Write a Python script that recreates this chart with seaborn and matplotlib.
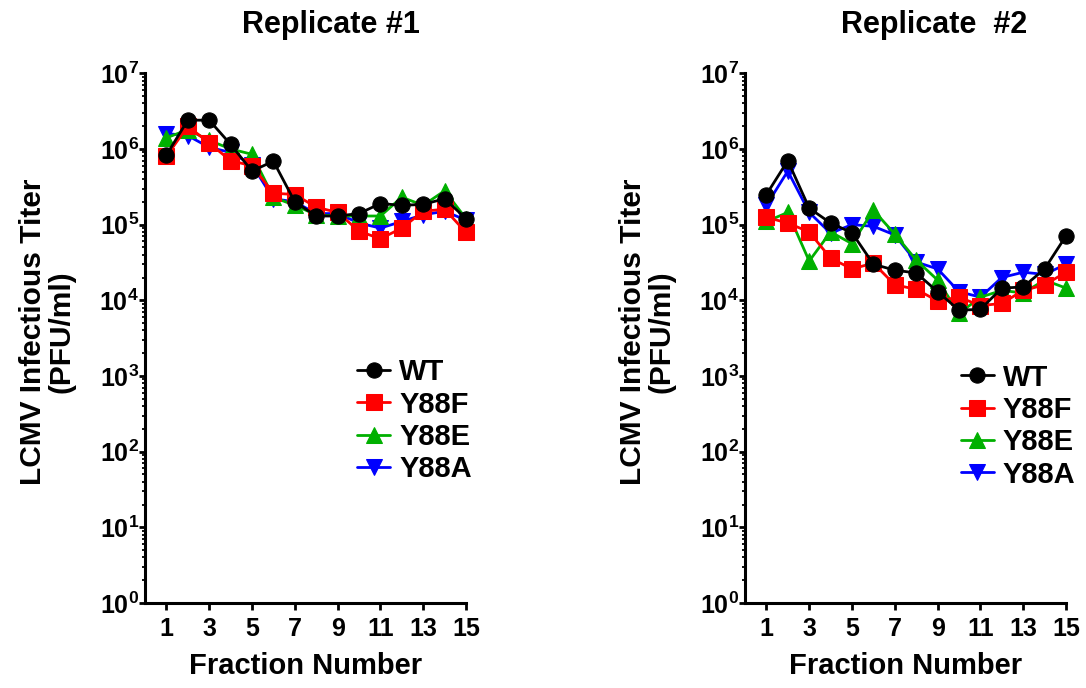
import matplotlib
matplotlib.use("Agg")
import matplotlib.pyplot as plt
import pandas as pd
import seaborn as sns
from matplotlib.ticker import FixedLocator, LogLocator, NullFormatter

# fraction numbers and strains
fractions = list(range(1, 16))
strains = ["WT", "Y88F", "Y88E", "Y88A"]

# replicate 1 titers (PFU/ml)
rep1_wt = [8.3e5, 2.4e6, 2.4e6, 1.15e6, 5.1e5, 6.9e5, 2.0e5, 1.3e5, 1.3e5, 1.4e5, 1.9e5, 1.8e5, 1.85e5, 2.2e5, 1.2e5]
rep1_y88f = [8.0e5, 2.0e6, 1.2e6, 7.0e5, 6.0e5, 2.6e5, 2.5e5, 1.7e5, 1.45e5, 8.2e4, 6.5e4, 9.0e4, 1.5e5, 1.6e5, 7.9e4]
rep1_y88e = [1.4e6, 1.8e6, 1.3e6, 1.0e6, 8.5e5, 2.3e5, 1.8e5, 1.35e5, 1.3e5, 1.3e5, 1.3e5, 2.3e5, 1.8e5, 2.8e5, 1.2e5]
rep1_y88a = [1.6e6, 1.5e6, 1.05e6, 9.0e5, 6.2e5, 2.2e5, 2.0e5, 1.4e5, 1.4e5, 1.05e5, 9.0e4, 1.1e5, 1.35e5, 1.5e5, 1.15e5]

# replicate 2 titers (PFU/ml)
rep2_wt = [2.5e5, 7.0e5, 1.65e5, 1.05e5, 7.8e4, 3.0e4, 2.5e4, 2.3e4, 1.3e4, 7.4e3, 7.6e3, 1.45e4, 1.5e4, 2.6e4, 7.1e4]
rep2_y88f = [1.25e5, 1.05e5, 8.0e4, 3.6e4, 2.6e4, 3.1e4, 1.6e4, 1.4e4, 9.8e3, 1.1e4, 8.5e3, 9.1e3, 1.35e4, 1.6e4, 2.35e4]
rep2_y88e = [1.1e5, 1.45e5, 3.3e4, 8.0e4, 5.6e4, 1.55e5, 7.5e4, 3.4e4, 1.85e4, 6.7e3, 1.1e4, 1.35e4, 1.25e4, 1.85e4, 1.45e4]
rep2_y88a = [1.8e5, 5.1e5, 1.45e5, 7.7e4, 1.0e5, 9.5e4, 7.3e4, 3.2e4, 2.6e4, 1.3e4, 1.1e4, 2.0e4, 2.35e4, 2.2e4, 3.0e4]

# axis ticks
x_ticks = [1, 3, 5, 7, 9, 11, 13, 15]
y_exponents = [0, 1, 2, 3, 4, 5, 6, 7]

colors = {"WT": "#000000", "Y88F": "#ff0000", "Y88E": "#00b000", "Y88A": "#0000ff"}
markers = {"WT": "o", "Y88F": "s", "Y88E": "^", "Y88A": "v"}
msizes = {"WT": 11, "Y88F": 11.5, "Y88E": 12, "Y88A": 12}

rows = []
for rep, series in [("Replicate #1", [rep1_wt, rep1_y88f, rep1_y88e, rep1_y88a]),
                    ("Replicate  #2", [rep2_wt, rep2_y88f, rep2_y88e, rep2_y88a])]:
    for strain, vals in zip(strains, series):
        for f, v in zip(fractions, vals):
            rows.append({"replicate": rep, "strain": strain, "fraction": f, "titer": v})
df = pd.DataFrame(rows)

sns.set_style("ticks")
plt.rcParams["font.family"] = ["Liberation Sans", "DejaVu Sans"]
plt.rcParams["font.weight"] = "bold"
plt.rcParams["mathtext.fontset"] = "custom"
plt.rcParams["mathtext.rm"] = "Liberation Sans:bold"
plt.rcParams["mathtext.bf"] = "Liberation Sans:bold"
for key in ["text.color", "axes.labelcolor", "xtick.color", "ytick.color", "axes.edgecolor"]:
    plt.rcParams[key] = "black"

fig = plt.figure(figsize=(10.86, 6.88), dpi=100)
ax1 = fig.add_axes([0.1335, 0.1235, 0.2956, 0.770])
ax2 = fig.add_axes([0.686, 0.1235, 0.2956, 0.770])

panels = [(ax1, "Replicate #1", 0.66, 0.462, 0.578), (ax2, "Replicate  #2", 0.672, 0.452, 0.59)]
for ax, rep, lx, ly, tx in panels:
    sub = df[df["replicate"] == rep]
    # draw back to front so WT ends up on top
    for strain in strains[::-1]:
        d = sub[sub["strain"] == strain]
        sns.lineplot(data=d, x="fraction", y="titer", ax=ax, color=colors[strain],
                     marker=markers[strain], markersize=msizes[strain], markeredgecolor=colors[strain],
                     linewidth=2.0, label=strain, errorbar=None, clip_on=False)
    ax.set_yscale("log")
    ax.set_ylim(1, 1e7)
    ax.set_xlim(0, 15)
    ax.xaxis.set_major_locator(FixedLocator(x_ticks))
    ax.set_xticklabels([str(t) for t in x_ticks])
    ax.yaxis.set_major_locator(FixedLocator([10.0 ** e for e in y_exponents]))
    ax.set_yticklabels([r"$\mathbf{10^{%d}}$" % e for e in y_exponents])
    ax.yaxis.set_minor_locator(LogLocator(base=10, subs=range(2, 10), numticks=20))
    ax.yaxis.set_minor_formatter(NullFormatter())
    ax.tick_params(axis="x", which="major", length=5, width=2.0, labelsize=18, pad=5)
    ax.tick_params(axis="y", which="major", length=4.3, width=2.0, labelsize=18, pad=0)
    ax.tick_params(axis="y", which="minor", length=2.5, width=1.3)
    for lab in ax.get_xticklabels():
        lab.set_fontweight("bold")
    sns.despine(ax=ax)
    for sp in ["left", "bottom"]:
        ax.spines[sp].set_linewidth(2.2)
    ax.set_xlabel("Fraction Number", fontsize=21, fontweight="bold", labelpad=8)
    ax.set_ylabel("LCMV Infectious Titer\n(PFU/ml)", fontsize=21.5, fontweight="bold", linespacing=1.05)
    ax.yaxis.set_label_coords(-0.215, 0.513)
    ax.set_title(rep, fontsize=22, fontweight="bold", x=tx, y=1.06)

    handles, labels = ax.get_legend_handles_labels()
    order = [labels.index(s) for s in strains]
    ax.legend([handles[i] for i in order], [labels[i] for i in order],
              loc="upper left", bbox_to_anchor=(lx, ly), frameon=False,
              borderaxespad=0, borderpad=0, handlelength=1.15,
              handletextpad=0.3, labelspacing=0.15, prop={"weight": "bold", "size": 21})

fig.savefig("out.png", dpi=100)
